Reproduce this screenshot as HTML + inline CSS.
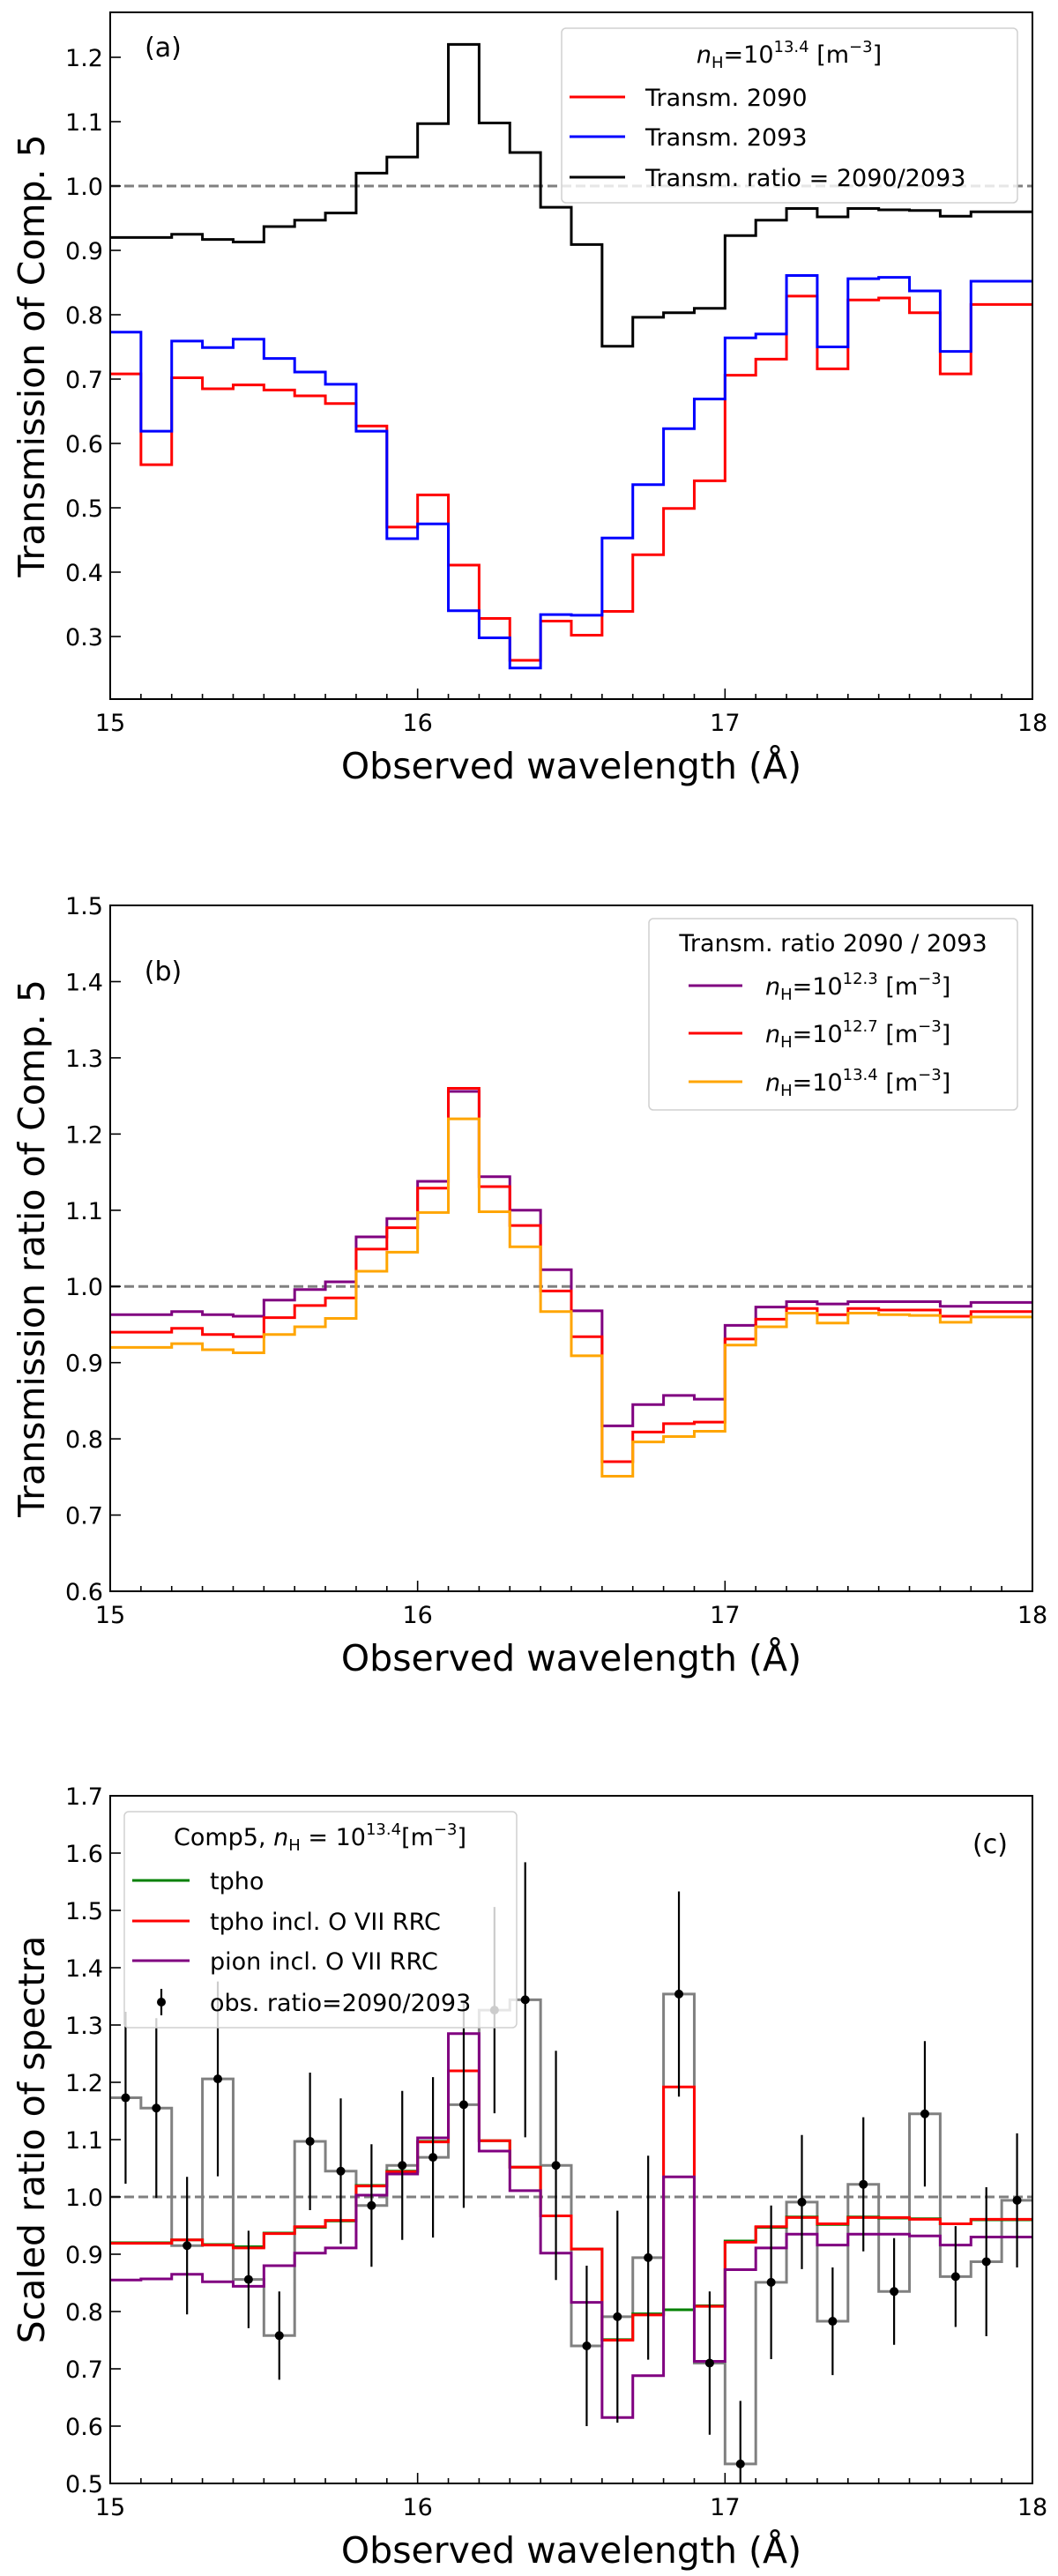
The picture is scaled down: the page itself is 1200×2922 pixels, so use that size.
<!DOCTYPE html>
<html><head><meta charset="utf-8">
<style>
html,body{margin:0;padding:0;background:#fff;}
svg{display:block;font-family:"DejaVu Sans","Liberation Sans",sans-serif;}
</style></head>
<body>
<svg id="fig" width="1200" height="2922" viewBox="0 0 1200 2922" xmlns="http://www.w3.org/2000/svg"></svg>
<script>
// ---- data ----
const binStart = 15.0;
const binWidth = 0.1;
const ratio13_4 = [0.920,0.920,0.925,0.917,0.913,0.937,0.947,0.958,1.020,1.045,1.097,1.220,1.098,1.052,0.967,0.909,0.751,0.796,0.803,0.810,0.923,0.947,0.965,0.952,0.965,0.963,0.962,0.953,0.960,0.960];
const transm2090 = [0.708,0.567,0.702,0.685,0.691,0.683,0.674,0.662,0.627,0.470,0.520,0.411,0.328,0.263,0.324,0.302,0.339,0.427,0.499,0.542,0.706,0.731,0.829,0.716,0.823,0.826,0.803,0.708,0.816,0.816];
const transm2093 = [0.773,0.619,0.759,0.749,0.762,0.732,0.711,0.692,0.619,0.452,0.475,0.340,0.298,0.251,0.334,0.333,0.453,0.536,0.623,0.669,0.764,0.770,0.861,0.750,0.856,0.858,0.837,0.743,0.852,0.852];
const ratio12_3 = [0.963,0.963,0.967,0.963,0.961,0.982,0.996,1.006,1.065,1.089,1.138,1.256,1.144,1.100,1.022,0.968,0.817,0.845,0.857,0.852,0.949,0.973,0.980,0.977,0.980,0.980,0.980,0.974,0.979,0.979];
const ratio12_7 = [0.940,0.940,0.945,0.937,0.934,0.959,0.975,0.985,1.049,1.077,1.129,1.260,1.131,1.080,0.994,0.934,0.770,0.809,0.820,0.822,0.931,0.957,0.971,0.963,0.971,0.969,0.969,0.961,0.967,0.967];
const tpho = [0.920,0.920,0.925,0.917,0.913,0.937,0.947,0.958,1.020,1.045,1.097,1.220,1.098,1.052,0.967,0.909,0.751,0.796,0.803,0.810,0.923,0.947,0.965,0.952,0.965,0.963,0.962,0.953,0.960,0.960];
const tphoRRC = [0.919,0.919,0.925,0.916,0.911,0.936,0.948,0.959,1.019,1.044,1.096,1.220,1.098,1.052,0.967,0.909,0.750,0.794,1.192,0.809,0.921,0.948,0.964,0.953,0.964,0.964,0.961,0.953,0.961,0.961];
const pionRRC = [0.855,0.857,0.865,0.852,0.844,0.880,0.902,0.911,1.003,1.040,1.103,1.285,1.080,1.011,0.902,0.816,0.615,0.688,1.035,0.713,0.873,0.911,0.935,0.916,0.935,0.935,0.932,0.916,0.930,0.930];
const obsRatio = [1.173,1.155,0.915,1.206,0.856,0.758,1.097,1.045,0.985,1.055,1.069,1.161,1.326,1.344,1.055,0.740,0.791,0.894,1.354,0.710,0.534,0.851,0.991,0.783,1.022,0.835,1.145,0.861,0.887,0.994];
const obsErr = [0.150,0.157,0.120,0.170,0.085,0.077,0.120,0.127,0.107,0.130,0.140,0.180,0.180,0.240,0.200,0.140,0.185,0.178,0.179,0.125,0.110,0.134,0.117,0.094,0.117,0.093,0.127,0.088,0.130,0.117];
const xTicks = [15,16,17,18];
const yTicksA = [0.3,0.4,0.5,0.6,0.7,0.8,0.9,1.0,1.1,1.2];
const yTicksB = [0.6,0.7,0.8,0.9,1.0,1.1,1.2,1.3,1.4,1.5];
const yTicksC = [0.5,0.6,0.7,0.8,0.9,1.0,1.1,1.2,1.3,1.4,1.5,1.6,1.7];

// ---- helpers ----
const NS = "http://www.w3.org/2000/svg";
const svg = document.getElementById('fig');
function mk(tag, attrs, parent){const e=document.createElementNS(NS,tag);for(const k in attrs)e.setAttribute(k,attrs[k]);(parent||svg).appendChild(e);return e;}
const L=125,R=1171;
function X(v){return L+(v-15)/3*(R-L);}

function makePanel(id, top, bottom, yOf){
  const g=mk('g',{});
  
  
  const cp=mk('clipPath',{id:'clip-'+id},g);
  mk('rect',{x:L,y:top,width:R-L,height:bottom-top},cp);
  const plot=mk('g',{'clip-path':'url(#clip-'+id+')'},g);
  return {g,plot,top,bottom,yOf};
}
function stepPath(p, vals, color, name, w){
  let d='';
  vals.forEach((v,i)=>{const x0=X(binStart+i*binWidth),x1=X(binStart+(i+1)*binWidth),y=p.yOf(v);
    d+=(i===0?'M'+x0+' '+y:'V'+y)+'H'+x1;});
  const e=mk('path',{d:d,fill:'none',stroke:color,'stroke-width':w||3,'stroke-linejoin':'miter'},p.plot);
  
  
}
function dashed(p){
  const e=mk('line',{x1:L,x2:R,y1:p.yOf(1.0),y2:p.yOf(1.0),stroke:'#808080','stroke-width':3,'stroke-dasharray':'11 5'},p.plot);
  
  
}
function axes(p, yTicks, ylabel){
  const g=p.g;
  const fr=mk('rect',{x:L,y:p.top,width:R-L,height:p.bottom-p.top,fill:'none',stroke:'#000','stroke-width':2},g);
  
  
  for(let i=0;i<=30;i++){const v=15+i*0.1,x=X(v),major=(i%10===0);
    mk('line',{x1:x,x2:x,y1:p.bottom,y2:p.bottom-(major?12:6),stroke:'#000','stroke-width':1.6},g);}
  xTicks.forEach(v=>{const t=mk('text',{x:X(v),y:p.bottom+36,'font-size':27,'text-anchor':'middle'},g);t.textContent=String(v);
    
    });
  yTicks.forEach(v=>{const y=p.yOf(v);mk('line',{x1:L,x2:L+12,y1:y,y2:y,stroke:'#000','stroke-width':1.6},g);
    const t=mk('text',{x:L-8,y:y+10,'font-size':27,'text-anchor':'end'},g);t.textContent=v.toFixed(1);
    
    });
  const xl=mk('text',{x:(L+R)/2,y:p.bottom+90,'font-size':41,'text-anchor':'middle'},g);xl.textContent='Observed wavelength (Å)';
  
  
  const cy=(p.top+p.bottom)/2;
  const yl=mk('text',{x:50,y:cy,'font-size':41,'text-anchor':'middle',transform:'rotate(-90 50 '+cy+')'},g);yl.textContent=ylabel;
  
  
}
function legendBox(g,x,y,w,h){
  const e=mk('rect',{x:x,y:y,width:w,height:h,rx:5,fill:'#fff','fill-opacity':0.8,stroke:'#d0d0d0','stroke-width':1.5},g);
  
  
}
function legEntry(g,x1,x2,tx,y,color,label,isHTML){
  const e=mk('g',{},g);
  
  
  mk('line',{x1:x1,x2:x2,y1:y,y2:y,stroke:color,'stroke-width':3},e);
  const t=mk('text',{x:tx,y:y+10,'font-size':27},e);
  if(isHTML)t.innerHTML=label;else t.textContent=label;
}
function nH(exp){return '<tspan font-style="italic">n</tspan><tspan font-size="18" dy="6">H</tspan><tspan dy="-6">=10</tspan><tspan font-size="18" dy="-12">'+exp+'</tspan><tspan dy="12"> [m</tspan><tspan font-size="18" dy="-12">−3</tspan><tspan dy="12">]</tspan>';}
function panelLabel(g,x,y,s){const t=mk('text',{x:x,y:y,'font-size':30,'text-anchor':'middle'},g);t.textContent=s;
  
  }

// ---- Panel (a) ----
const pa=makePanel('panel-a',14,793,v=>722-(v-0.3)*730);
dashed(pa);
stepPath(pa,ratio13_4,'#000','series-transm-ratio');
stepPath(pa,transm2090,'#ff0000','series-transm-2090');
stepPath(pa,transm2093,'#0000ff','series-transm-2093');
axes(pa,yTicksA,'Transmission of Comp. 5');
panelLabel(pa.g,185,64,'(a)');
legendBox(pa.g,637,32,517,198);
{const t=mk('text',{x:895,y:71,'font-size':27,'text-anchor':'middle'},pa.g);t.innerHTML=nH('13.4');
 
 }
legEntry(pa.g,646,709,732,110,'#ff0000','Transm. 2090');
legEntry(pa.g,646,709,732,155,'#0000ff','Transm. 2093');
legEntry(pa.g,646,709,732,201,'#000','Transm. ratio = 2090/2093');

// ---- Panel (b) ----
const pb=makePanel('panel-b',1027,1805,v=>1805-(v-0.6)*864.4);
dashed(pb);
stepPath(pb,ratio12_3,'#800080','series-nh-12-3');
stepPath(pb,ratio12_7,'#ff0000','series-nh-12-7');
stepPath(pb,ratio13_4,'#ffa500','series-nh-13-4');
axes(pb,yTicksB,'Transmission ratio of Comp. 5');
panelLabel(pb.g,185,1112,'(b)');
legendBox(pb.g,736,1042,418,217);
{const t=mk('text',{x:945,y:1079,'font-size':27,'text-anchor':'middle'},pb.g);t.textContent='Transm. ratio 2090 / 2093';
 
 }
legEntry(pb.g,781,842,868,1118,'#800080',nH('12.3'),true);
legEntry(pb.g,781,842,868,1172,'#ff0000',nH('12.7'),true);
legEntry(pb.g,781,842,868,1227,'#ffa500',nH('13.4'),true);

// ---- Panel (c) ----
const pc=makePanel('panel-c',2037,2817,v=>2817-(v-0.5)*650);
stepPath(pc,obsRatio,'#808080','observed-ratio-step');
dashed(pc);
stepPath(pc,tpho,'#008000','series-tpho');
stepPath(pc,tphoRRC,'#ff0000','series-tpho-rrc');
stepPath(pc,pionRRC,'#800080','series-pion-rrc');
obsRatio.forEach((v,i)=>{
  const x=X(binStart+(i+0.5)*binWidth);
  const eg=mk('g',{},pc.plot);
  
  
  mk('line',{x1:x,x2:x,y1:pc.yOf(v-obsErr[i]),y2:pc.yOf(v+obsErr[i]),stroke:'#000','stroke-width':2.2},eg);
  mk('circle',{cx:x,cy:pc.yOf(v),r:5,fill:'#000'},eg);
});
axes(pc,yTicksC,'Scaled ratio of spectra');
panelLabel(pc.g,1123,2102,'(c)');
legendBox(pc.g,141,2055,445,245);
{const t=mk('text',{x:363,y:2093,'font-size':27,'text-anchor':'middle'},pc.g);
 t.innerHTML='Comp5, <tspan font-style="italic">n</tspan><tspan font-size="18" dy="6">H</tspan><tspan dy="-6"> = 10</tspan><tspan font-size="18" dy="-12">13.4</tspan><tspan dy="12">[m</tspan><tspan font-size="18" dy="-12">−3</tspan><tspan dy="12">]</tspan>';
 
 }
legEntry(pc.g,150,215,238,2133,'#008000','tpho');
legEntry(pc.g,150,215,238,2179,'#ff0000','tpho incl. O VII RRC');
legEntry(pc.g,150,215,238,2224,'#800080','pion incl. O VII RRC');
{const e=mk('g',{},pc.g);
 
 
 mk('line',{x1:183,x2:183,y1:2256,y2:2286,stroke:'#000','stroke-width':2.2},e);
 mk('circle',{cx:183,cy:2271,r:5,fill:'#000'},e);
 const t=mk('text',{x:238,y:2281,'font-size':27},e);t.textContent='obs. ratio=2090/2093';}
</script>
</body></html>
